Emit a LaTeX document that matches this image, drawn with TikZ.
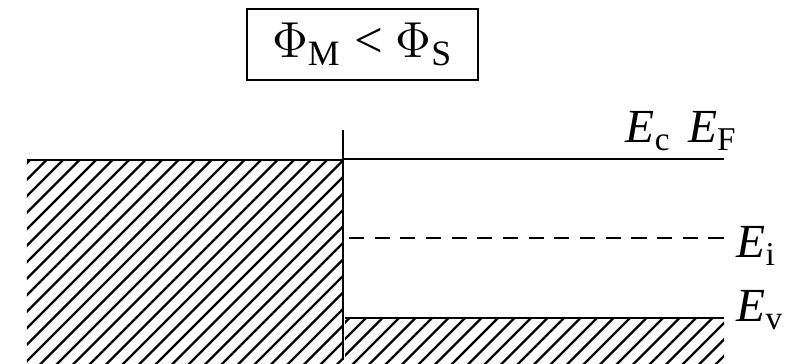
\documentclass[tikz,border=0pt]{standalone}
\usepackage{fontspec}
\setmainfont{Liberation Serif}
\usetikzlibrary{positioning}

\begin{document}
\begin{tikzpicture}[x=0.01cm,y=-0.01cm,
  level/.style={draw=black,line width=0.65pt},
  fermi/.style={draw=black,line width=0.65pt,dash pattern=on 4.3pt off 3pt},
  hatch/.style={draw=black,line width=0.7pt},
  label/.style={font=\fontsize{13.5}{16}\selectfont,inner sep=0pt},
  title/.style={draw=black,line width=0.8pt,minimum width=2.31cm,minimum height=0.71cm,inner sep=2pt,font=\fontsize{14.5}{17}\selectfont}
]
\useasboundingbox (0,0) rectangle (790,364);
% title box
\node[title] (cmp) at (362.5,44.5) {$\Phi$\textsubscript{M} < $\Phi$\textsubscript{S}};
% metal side, hatched
\begin{scope}
  \clip (27,160) rectangle (343,364);
  \foreach \k in {-20,...,40}
    \draw[hatch] ({\k*16.5},520) -- ++(600,-600);
\end{scope}
% semiconductor valence band, hatched
\begin{scope}
  \clip (345,318) rectangle (724,364);
  \foreach \k in {10,...,50}
    \draw[hatch] ({\k*16.5},420) -- ++(300,-300);
\end{scope}
% interface and levels
\coordinate (top) at (343,130);
\coordinate (bot) at (343,360);
\draw[level] (top) -- (bot);
\draw[level] (27,160) -- (343,160);
\draw[level] (343,159) coordinate (ec0) -- (724,159) coordinate (ec1);
\draw[fermi] (349,238) coordinate (ei0) -- (724,238) coordinate (ei1);
\draw[level] (345,318) coordinate (ev0) -- (724,318) coordinate (ev1);
% labels
\node[label,anchor=base east] (lec) at (738,143) {\textit{E}\textsubscript{c}\hspace{0.35em}\textit{E}\textsubscript{F}};
\node[label,anchor=base west] (lei) at (736,258) {\textit{E}\textsubscript{i}};
\node[label,anchor=base west] (lev) at (736,322) {\textit{E}\textsubscript{v}};
\end{tikzpicture}
\end{document}
